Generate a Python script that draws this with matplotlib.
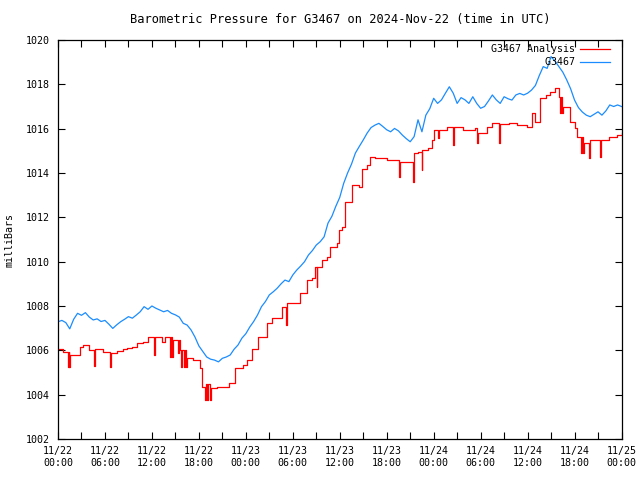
import numpy as np
import matplotlib.pyplot as plt

# hours since 2024-11-22 00:00 UTC
station_hours = np.arange(0, 72.5, 0.5)
station_mb = [
    1007.29, 1007.35, 1007.25, 1006.97, 1007.40, 1007.67, 1007.58, 1007.70,
    1007.50, 1007.37, 1007.42, 1007.30, 1007.35, 1007.18, 1006.99, 1007.15,
    1007.29, 1007.40, 1007.52, 1007.45, 1007.59, 1007.74, 1007.97, 1007.85,
    1008.00, 1007.90, 1007.82, 1007.74, 1007.80, 1007.67, 1007.60, 1007.50,
    1007.22, 1007.14, 1006.92, 1006.60, 1006.20, 1005.95, 1005.70, 1005.60,
    1005.56, 1005.48, 1005.64, 1005.70, 1005.79, 1006.05, 1006.24, 1006.55,
    1006.75, 1007.05, 1007.30, 1007.60, 1007.97, 1008.20, 1008.50, 1008.64,
    1008.80, 1009.00, 1009.17, 1009.10, 1009.40, 1009.62, 1009.80, 1010.00,
    1010.30, 1010.50, 1010.75, 1010.90, 1011.12, 1011.74, 1012.05, 1012.50,
    1012.90, 1013.53, 1014.00, 1014.40, 1014.90, 1015.20, 1015.49, 1015.80,
    1016.05, 1016.16, 1016.24, 1016.10, 1015.95, 1015.86, 1016.01, 1015.90,
    1015.71, 1015.55, 1015.41, 1015.64, 1016.40, 1015.86, 1016.61, 1016.90,
    1017.37, 1017.14, 1017.30, 1017.60, 1017.89, 1017.60, 1017.14, 1017.40,
    1017.30, 1017.14, 1017.44, 1017.14, 1016.92, 1017.00, 1017.25, 1017.52,
    1017.30, 1017.14, 1017.44, 1017.35, 1017.29, 1017.52, 1017.59, 1017.52,
    1017.60, 1017.74, 1017.95, 1018.40, 1018.80, 1018.72, 1019.25, 1019.05,
    1018.80, 1018.55, 1018.20, 1017.80, 1017.29, 1016.95, 1016.75, 1016.61,
    1016.54, 1016.65, 1016.76, 1016.61, 1016.80, 1017.07, 1017.00, 1017.07,
    1017.00,
]

# analysis is a step series (value holds until the next change)
analysis_hours = [
    0.0, 0.7, 1.25, 1.35, 1.45, 1.55, 2.8, 3.2, 3.9, 4.6, 4.72, 5.8, 6.6, 6.72,
    7.5, 8.35, 8.8, 9.4, 10.05, 10.9, 11.55, 12.3, 12.42, 13.25, 13.7, 14.3,
    14.4, 14.55, 14.7, 15.3, 15.4, 15.6, 15.75, 15.85, 16.1, 16.2, 16.35, 16.45,
    17.25, 18.15, 18.4, 18.8, 18.9, 19.05, 19.15, 19.4, 19.5, 20.3, 21.8, 22.6,
    23.7, 24.1, 24.75, 25.6, 26.7, 27.4, 28.6, 29.1, 29.25, 30.95, 31.8, 32.45,
    32.9, 33.05, 33.15, 33.7, 34.35, 34.8, 35.6, 35.85, 36.3, 36.7, 37.55, 38.4,
    38.85, 39.5, 39.9, 40.5, 42.0, 43.6, 43.75, 45.35, 45.45, 46.0, 46.45,
    46.55, 47.3, 47.8, 48.0, 48.55, 48.65, 49.7, 50.5, 50.62, 51.8, 53.3, 53.5,
    53.62, 54.8, 55.45, 56.3, 56.45, 57.6, 58.6, 59.9, 60.55, 60.95, 61.6, 62.3,
    62.9, 63.5, 64.0, 64.1, 64.25, 64.4, 64.55, 65.45, 66.1, 66.35, 66.8, 66.9,
    67.1, 67.2, 67.8, 67.92, 69.3, 69.42, 70.35, 71.4, 72.0,
]
analysis_mb = [
    1006.05, 1005.94, 1005.26, 1005.94, 1005.26, 1005.81, 1006.16, 1006.24,
    1006.01, 1005.29, 1006.05, 1005.94, 1005.26, 1005.86, 1005.98, 1006.05,
    1006.09, 1006.16, 1006.31, 1006.39, 1006.59, 1005.79, 1006.61, 1006.39,
    1006.61, 1005.71, 1006.61, 1005.71, 1006.47, 1005.90, 1006.47, 1006.00,
    1005.26, 1006.00, 1005.26, 1006.00, 1005.26, 1005.64, 1005.56, 1005.19,
    1004.36, 1003.76, 1004.50, 1003.76, 1004.50, 1003.76, 1004.29, 1004.36,
    1004.51, 1005.19, 1005.34, 1005.56, 1006.05, 1006.60, 1007.22, 1007.45,
    1007.97, 1007.14, 1008.12, 1008.57, 1009.17, 1009.25, 1009.77, 1008.87,
    1009.77, 1010.07, 1010.22, 1010.67, 1010.82, 1011.43, 1011.58, 1012.70,
    1013.46, 1013.38, 1014.18, 1014.36, 1014.71, 1014.66, 1014.58, 1013.83,
    1014.51, 1013.60, 1014.89, 1014.96, 1014.13, 1015.03, 1015.11, 1015.49,
    1015.94, 1015.57, 1015.94, 1016.09, 1015.26, 1016.09, 1015.94, 1016.01,
    1015.34, 1015.79, 1016.09, 1016.24, 1015.35, 1016.20, 1016.27, 1016.16,
    1016.09, 1016.69, 1016.31, 1017.37, 1017.52, 1017.67, 1017.82, 1017.44,
    1016.70, 1017.44, 1016.70, 1017.00, 1016.31, 1016.01, 1015.64, 1014.90,
    1015.64, 1014.90, 1015.34, 1014.66, 1015.49, 1014.70, 1015.49, 1015.64,
    1015.71, 1015.79,
]

tick_hours = [0, 6, 12, 18, 24, 30, 36, 42, 48, 54, 60, 66, 72]
tick_labels = ['11/22\n00:00', '11/22\n06:00', '11/22\n12:00', '11/22\n18:00',
               '11/23\n00:00', '11/23\n06:00', '11/23\n12:00', '11/23\n18:00',
               '11/24\n00:00', '11/24\n06:00', '11/24\n12:00', '11/24\n18:00',
               '11/25\n00:00']
y_ticks = [1002, 1004, 1006, 1008, 1010, 1012, 1014, 1016, 1018, 1020]

plt.rcParams['font.family'] = ['DejaVu Sans Mono']
plt.rcParams['font.size'] = 7.2

fig = plt.figure(figsize=(6.4, 4.8), dpi=100)
ax = fig.add_axes([58 / 640, 1 - 439 / 480, 563.5 / 640, 399 / 480])

ax.plot(analysis_hours, analysis_mb, color='#ff0000', lw=0.9,
        drawstyle='steps-post', label='G3467 Analysis')
ax.plot(station_hours, station_mb, color='#1a8cff', lw=0.9,
        label='G3467'.rjust(14))

ax.set_xlim(0, 72)
ax.set_ylim(1002, 1020)
ax.set_xticks(tick_hours)
ax.set_xticklabels(tick_labels)
ax.set_xticks(np.arange(3, 72, 6), minor=True)
ax.set_yticks(y_ticks)

ax.tick_params(which='both', direction='in', top=True, right=True, width=0.8)
ax.tick_params(which='major', length=5)
ax.tick_params(which='minor', length=5)
ax.tick_params(axis='x', pad=5)
ax.tick_params(axis='y', pad=6)
for s in ax.spines.values():
    s.set_linewidth(0.9)

ax.set_title('Barometric Pressure for G3467 on 2024-Nov-22 (time in UTC)', pad=12)
fig.text(10 / 640, 0.5, 'milliBars', rotation=90, ha='center', va='center')

ax.legend(loc='upper right', bbox_to_anchor=(0.987, 0.999), frameon=False,
          markerfirst=False, handlelength=3.0, handletextpad=0.5,
          labelspacing=0.3, borderaxespad=0)

fig.savefig('out.png', dpi=100)
